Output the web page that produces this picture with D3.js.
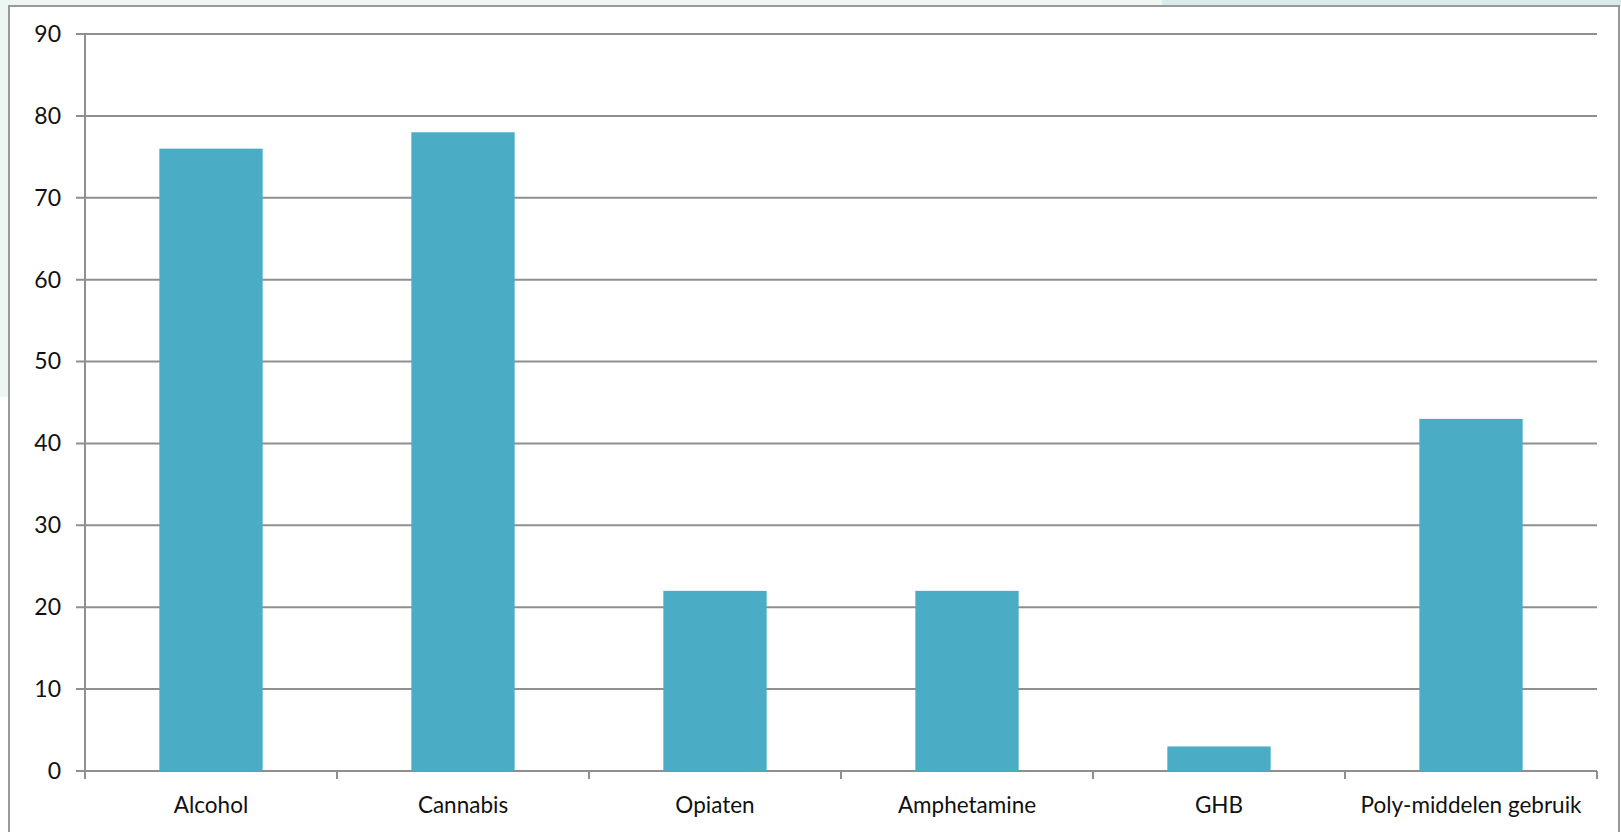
<!DOCTYPE html>
<html>
<head>
<meta charset="utf-8">
<style>
  body { margin: 0; background: #ffffff; }
  svg text { font-family: Lato, "Open Sans", sans-serif; fill: #111; }
</style>
</head>
<body>
<div id="chart"></div>
<script src="https://d3js.org/d3.v7.min.js"></script>
<script>
  const categories = ["Alcohol", "Cannabis", "Opiaten", "Amphetamine", "GHB", "Poly-middelen gebruik"];
  const values = [76, 78, 22, 22, 3, 43];
  const yTicks = [0, 10, 20, 30, 40, 50, 60, 70, 80, 90];

  const W = 1621, H = 832;
  const margin = { top: 34, right: 24, bottom: 61, left: 85 },
        width = W - margin.left - margin.right,
        height = H - margin.top - margin.bottom;

  const root = d3.select("#chart").append("svg")
    .attr("width", W)
    .attr("height", H);

  // slide background behind the chart panel
  root.append("rect").attr("width", W).attr("height", H).attr("fill", "#ffffff");
  root.append("rect").attr("width", 10).attr("height", 397).attr("fill", "#eef6f4");
  root.append("rect").attr("width", 1162).attr("height", 7).attr("fill", "#eef6f4");
  root.append("rect").attr("x", 1162).attr("width", W - 1162).attr("height", 7).attr("fill", "#dae9e9");

  // chart panel
  root.append("rect")
    .attr("x", 9).attr("y", 6)
    .attr("width", 1610).attr("height", 840)
    .attr("fill", "#fff")
    .attr("stroke", "#999").attr("stroke-width", 2);

  const svg = root.append("g")
    .attr("transform", `translate(${margin.left},${margin.top})`);

  const x = d3.scaleBand().domain(categories).range([0, width]).paddingInner(0.59).paddingOuter(0.295);
  const xBand = d3.scaleBand().domain(categories).range([0, width]);
  const y = d3.scaleLinear().domain([0, 90]).range([height, 0]);

  // gridlines
  svg.append("g")
    .selectAll("line")
    .data(yTicks)
    .join("line")
    .attr("x1", -9).attr("x2", width)
    .attr("y1", d => y(d)).attr("y2", d => y(d))
    .attr("stroke", "#8f8f8f").attr("stroke-width", 2);

  // bars
  svg.append("g")
    .selectAll("rect")
    .data(values)
    .join("rect")
    .attr("x", (d, i) => x(categories[i]))
    .attr("y", d => y(d))
    .attr("width", x.bandwidth())
    .attr("height", d => height - y(d))
    .attr("fill", "#4bacc6");

  // y axis
  const yAxis = svg.append("g")
    .call(d3.axisLeft(y).tickValues(yTicks).tickSize(0).tickPadding(24));
  yAxis.select(".domain").remove();
  yAxis.selectAll("text").attr("font-size", 23).attr("fill", "#111");
  svg.append("line")
    .attr("x1", 0).attr("x2", 0).attr("y1", 0).attr("y2", height + 8)
    .attr("stroke", "#8f8f8f").attr("stroke-width", 2);

  // x axis: category boundary ticks
  const bounds = categories.map(c => xBand(c) + xBand.bandwidth());
  svg.append("g")
    .selectAll("line")
    .data(bounds)
    .join("line")
    .attr("x1", d => d).attr("x2", d => d)
    .attr("y1", height).attr("y2", height + 8)
    .attr("stroke", "#8f8f8f").attr("stroke-width", 2);

  const xAxis = svg.append("g")
    .attr("transform", `translate(0,${height})`)
    .call(d3.axisBottom(xBand).tickSize(0).tickPadding(26));
  xAxis.select(".domain").remove();
  xAxis.selectAll("text").attr("font-size", 22.5).attr("fill", "#111");
</script>
</body>
</html>
